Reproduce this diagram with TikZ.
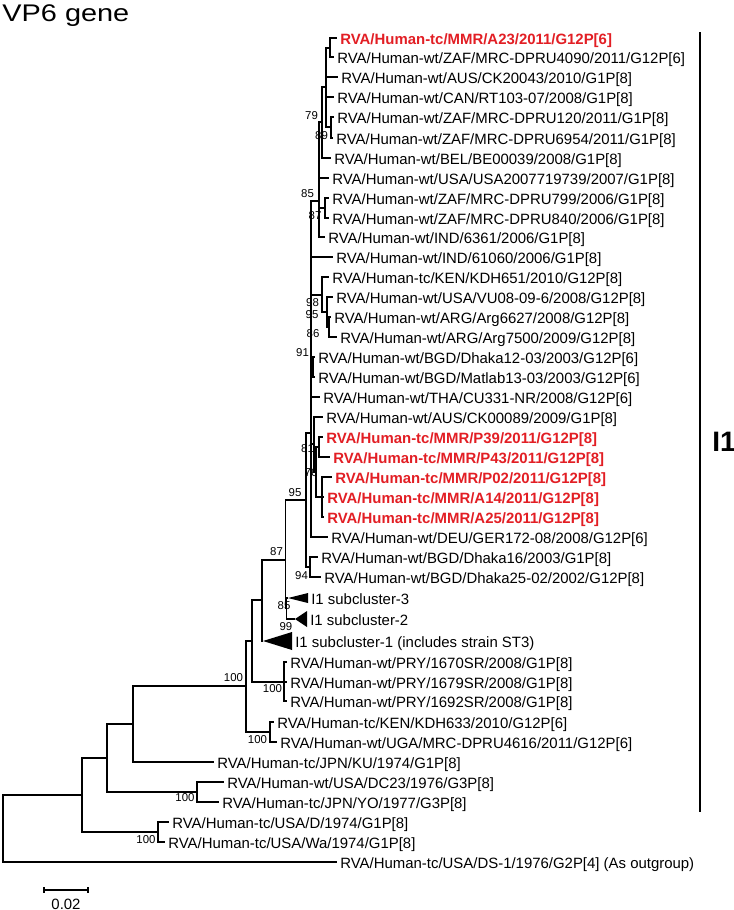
\documentclass[tikz,border=0pt]{standalone}
\usepackage{fontspec}
\setmainfont{Liberation Sans}
\definecolor{mmrred}{RGB}{226,30,36}
\tikzstyle{leaf} = [anchor=west, 
inner xsep=1.7pt, inner ysep=0pt, 
text height=0.716em, text depth=0pt, 
font=\fontsize{8.5}{10}\selectfont]
\tikzstyle{mmr} = [leaf, text=mmrred, 
font=\fontsize{8.5}{10}\selectfont\bfseries]
\tikzstyle{boot} = [inner sep=0pt, font=\fontsize{6.5}{8}\selectfont]
\tikzstyle{branch} = [line width=1.05pt]
\tikzstyle{clade} = [fill=black]

\begin{document}
\begin{tikzpicture}[x=0.02cm, y=-0.02cm]
	\useasboundingbox (0,0) rectangle (734,910);
	\node (title) [anchor=west, inner sep=0pt, text height=0.716em, text depth=0pt, font=\fontsize{13.7}{16}\selectfont, xscale=1.2, transform shape] at (2,15) {VP6 gene};

	% internal nodes
	\coordinate (root) at (3,828);
	\coordinate (n82) at (82,795);
	\coordinate (n107) at (107,758);
	\coordinate (nKU) at (133,724);
	\coordinate (nD) at (158,832);
	\coordinate (nDC) at (197,792);
	\coordinate (n100b) at (246,686);
	\coordinate (n100a) at (252,641);
	\coordinate (nKDH) at (270,732);
	\coordinate (n99) at (262,600);
	\coordinate (nPRY) at (284,682);
	\coordinate (n87) at (285.5,560);
	\coordinate (n85b) at (286.5,608);
	\coordinate (n95) at (306,500);
	\coordinate (n94) at (310,567);
	\coordinate (nBig) at (311,433);
	\coordinate (n85) at (319,201);
	\coordinate (n79) at (322,122);
	\coordinate (nTop) at (326,87);
	\coordinate (nA) at (330,48);
	\coordinate (nZ) at (331,127);
	\coordinate (nZ2) at (325,208);
	\coordinate (n98) at (322,295);
	\coordinate (n95b) at (327,312);
	\coordinate (nARG) at (329,327);
	\coordinate (n91) at (313,367);
	\coordinate (n81) at (314,444);
	\coordinate (nRed) at (316,472);
	\coordinate (nP) at (319,447);
	\coordinate (n76) at (322,497);
	\coordinate (s3) at (288,598);
	\coordinate (s2) at (295,619);
	\coordinate (s1) at (263,641);

	% strains
	\node (a23) [mmr] at (337,38) {RVA/Human-tc/MMR/A23/2011/G12P[6]};
	\node (zaf4090) [leaf] at (334,57) {RVA/Human-wt/ZAF/MRC-DPRU4090/2011/G12P[6]};
	\node (aus20043) [leaf] at (338,77) {RVA/Human-wt/AUS/CK20043/2010/G1P[8]};
	\node (can) [leaf] at (334,97) {RVA/Human-wt/CAN/RT103-07/2008/G1P[8]};
	\node (zaf120) [leaf] at (334,117) {RVA/Human-wt/ZAF/MRC-DPRU120/2011/G1P[8]};
	\node (zaf6954) [leaf] at (333,138) {RVA/Human-wt/ZAF/MRC-DPRU6954/2011/G1P[8]};
	\node (bel) [leaf] at (331,158) {RVA/Human-wt/BEL/BE00039/2008/G1P[8]};
	\node (usa2007) [leaf] at (329,178) {RVA/Human-wt/USA/USA2007719739/2007/G1P[8]};
	\node (zaf799) [leaf] at (329,198) {RVA/Human-wt/ZAF/MRC-DPRU799/2006/G1P[8]};
	\node (zaf840) [leaf] at (329,218) {RVA/Human-wt/ZAF/MRC-DPRU840/2006/G1P[8]};
	\node (ind6361) [leaf] at (325,237) {RVA/Human-wt/IND/6361/2006/G1P[8]};
	\node (ind61060) [leaf] at (333,257) {RVA/Human-wt/IND/61060/2006/G1P[8]};
	\node (kdh651) [leaf] at (329,277) {RVA/Human-tc/KEN/KDH651/2010/G12P[8]};
	\node (vu) [leaf] at (333,297) {RVA/Human-wt/USA/VU08-09-6/2008/G12P[8]};
	\node (arg6627) [leaf] at (331,317) {RVA/Human-wt/ARG/Arg6627/2008/G12P[8]};
	\node (arg7500) [leaf] at (337,337) {RVA/Human-wt/ARG/Arg7500/2009/G12P[8]};
	\node (dhaka12) [leaf] at (315,357) {RVA/Human-wt/BGD/Dhaka12-03/2003/G12P[6]};
	\node (matlab) [leaf] at (315,377) {RVA/Human-wt/BGD/Matlab13-03/2003/G12P[6]};
	\node (tha) [leaf] at (320,397) {RVA/Human-wt/THA/CU331-NR/2008/G12P[6]};
	\node (aus00089) [leaf] at (323,417) {RVA/Human-wt/AUS/CK00089/2009/G1P[8]};
	\node (p39) [mmr] at (323,437) {RVA/Human-tc/MMR/P39/2011/G12P[8]};
	\node (p43) [mmr] at (330,457) {RVA/Human-tc/MMR/P43/2011/G12P[8]};
	\node (p02) [mmr] at (332,477) {RVA/Human-tc/MMR/P02/2011/G12P[8]};
	\node (a14) [mmr] at (324,497) {RVA/Human-tc/MMR/A14/2011/G12P[8]};
	\node (a25) [mmr] at (324,517) {RVA/Human-tc/MMR/A25/2011/G12P[8]};
	\node (deu) [leaf] at (328,537) {RVA/Human-wt/DEU/GER172-08/2008/G12P[6]};
	\node (dhaka16) [leaf] at (318,557) {RVA/Human-wt/BGD/Dhaka16/2003/G1P[8]};
	\node (dhaka25) [leaf] at (321,577) {RVA/Human-wt/BGD/Dhaka25-02/2002/G12P[8]};
	\node (sub3) [leaf] at (308,598) {I1 subcluster-3};
	\node (sub2) [leaf] at (307,619) {I1 subcluster-2};
	\node (sub1) [leaf] at (292,641) {I1 subcluster-1 (includes strain ST3)};
	\node (pry1670) [leaf] at (287,662) {RVA/Human-wt/PRY/1670SR/2008/G1P[8]};
	\node (pry1679) [leaf] at (287,682) {RVA/Human-wt/PRY/1679SR/2008/G1P[8]};
	\node (pry1692) [leaf] at (287,701) {RVA/Human-wt/PRY/1692SR/2008/G1P[8]};
	\node (kdh633) [leaf] at (274,722) {RVA/Human-tc/KEN/KDH633/2010/G12P[6]};
	\node (uga) [leaf] at (277,742) {RVA/Human-wt/UGA/MRC-DPRU4616/2011/G12P[6]};
	\node (ku) [leaf] at (214,762) {RVA/Human-tc/JPN/KU/1974/G1P[8]};
	\node (dc23) [leaf] at (224,782) {RVA/Human-wt/USA/DC23/1976/G3P[8]};
	\node (yo) [leaf] at (219,802) {RVA/Human-tc/JPN/YO/1977/G3P[8]};
	\node (usad) [leaf] at (169,822) {RVA/Human-tc/USA/D/1974/G1P[8]};
	\node (wa) [leaf] at (165,842) {RVA/Human-tc/USA/Wa/1974/G1P[8]};
	\node (ds1) [leaf] at (337,862) {RVA/Human-tc/USA/DS-1/1976/G2P[4] (As outgroup)};

	% collapsed subclusters
	\fill [clade] (s3) -- (308,593) -- (308,603) -- cycle;
	\fill [clade] (s2) -- (307,611) -- (307,627) -- cycle;
	\fill [clade] (s1) -- (292,632) -- (292,650) -- cycle;

	% branches
	\draw [branch] (root) |- (n82) (root) |- (ds1.west);
	\draw [branch] (n82) |- (n107) (n82) |- (nD);
	\draw [branch] (nD) |- (usad.west) (nD) |- (wa.west);
	\draw [branch] (n107) |- (nKU) (n107) |- (nDC);
	\draw [branch] (nDC) |- (dc23.west) (nDC) |- (yo.west);
	\draw [branch] (nKU) |- (n100b) (nKU) |- (ku.west);
	\draw [branch] (n100b) |- (n100a) (n100b) |- (nKDH);
	\draw [branch] (nKDH) |- (kdh633.west) (nKDH) |- (uga.west);
	\draw [branch] (n100a) |- (n99) (n100a) |- (nPRY);
	\draw [branch] (nPRY) |- (pry1670.west) (nPRY) |- (pry1679.west) (nPRY) |- (pry1692.west);
	\draw [branch] (n99) |- (n87) (n99) |- (s1);
	\draw [branch] (n87) |- (n95) (n87) |- (n85b);
	\draw [branch] (n85b) |- (s3) (n85b) |- (s2);
	\draw [branch] (n95) |- (nBig) (n95) |- (n94);
	\draw [branch] (n94) |- (dhaka16.west) (n94) |- (dhaka25.west);
	\draw [branch] (nBig) |- (n85) (nBig) |- (ind61060.west) (nBig) |- (n98) (nBig) |- (n91);
	\draw [branch] (nBig) |- (tha.west) (nBig) |- (n81) (nBig) |- (deu.west);
	\draw [branch] (n85) |- (n79) (n85) |- (usa2007.west) (n85) |- (nZ2) (n85) |- (ind6361.west);
	\draw [branch] (nZ2) |- (zaf799.west) (nZ2) |- (zaf840.west);
	\draw [branch] (n79) |- (nTop) (n79) |- (bel.west);
	\draw [branch] (nTop) |- (nA) (nTop) |- (aus20043.west) (nTop) |- (can.west) (nTop) |- (nZ);
	\draw [branch] (nA) |- (a23.west) (nA) |- (zaf4090.west);
	\draw [branch] (nZ) |- (zaf120.west) (nZ) |- (zaf6954.west);
	\draw [branch] (n98) |- (kdh651.west) (n98) |- (n95b);
	\draw [branch] (n95b) |- (vu.west) (n95b) |- (nARG);
	\draw [branch] (nARG) |- (arg6627.west) (nARG) |- (arg7500.west);
	\draw [branch] (n91) |- (dhaka12.west) (n91) |- (matlab.west);
	\draw [branch] (n81) |- (aus00089.west) (n81) |- (nRed);
	\draw [branch] (nRed) |- (nP) (nRed) |- (n76);
	\draw [branch] (nP) |- (p39.west) (nP) |- (p43.west);
	\draw [branch] (n76) |- (p02.west) (n76) |- (a14.west) (n76) |- (a25.west);

	% bootstrap values
	\node (b79) [boot] at (311.5,116) {79};
	\node (b89) [boot] at (321.5,136) {89};
	\node (b85a) [boot] at (307.5,194) {85};
	\node (b87a) [boot] at (315,216) {87};
	\node (b98) [boot] at (312.5,303) {98};
	\node (b95a) [boot] at (312,315) {95};
	\node (b86) [boot] at (313,334) {86};
	\node (b91) [boot] at (302.5,353) {91};
	\node (b81) [boot] at (307.5,449) {81};
	\node (b76) [boot] at (311,473) {76};
	\node (b95b) [boot] at (295,493) {95};
	\node (b87b) [boot] at (276.5,552) {87};
	\node (b94) [boot] at (301.5,576) {94};
	\node (b85b) [boot] at (284,606) {85};
	\node (b99) [boot] at (286,627) {99};
	\node (b100a) [boot] at (233.5,678) {100};
	\node (b100b) [boot] at (272.5,689) {100};
	\node (b100c) [boot] at (257.5,740) {100};
	\node (b100d) [boot] at (185,798) {100};
	\node (b100e) [boot] at (146,840) {100};

	% genotype bar
	\coordinate (bartop) at (700,32);
	\coordinate (barbot) at (700,812);
	\draw [line width=1.5pt] (bartop) -- (barbot);
	\node (geno) [anchor=west, inner sep=0pt, font=\fontsize{16}{18}\selectfont\bfseries] at (712,442) {I1};

	% scale bar
	\coordinate (sbl) at (44,890);
	\coordinate (sbr) at (88,890);
	\draw [branch] (sbl) -- (sbr);
	\draw [branch] ([yshift=0.06cm]sbl) -- ([yshift=-0.06cm]sbl);
	\draw [branch] ([yshift=0.06cm]sbr) -- ([yshift=-0.06cm]sbr);
	\node (sblabel) [font=\fontsize{8.5}{10}\selectfont, inner sep=0pt] at (66,904) {0.02};
\end{tikzpicture}
\end{document}
